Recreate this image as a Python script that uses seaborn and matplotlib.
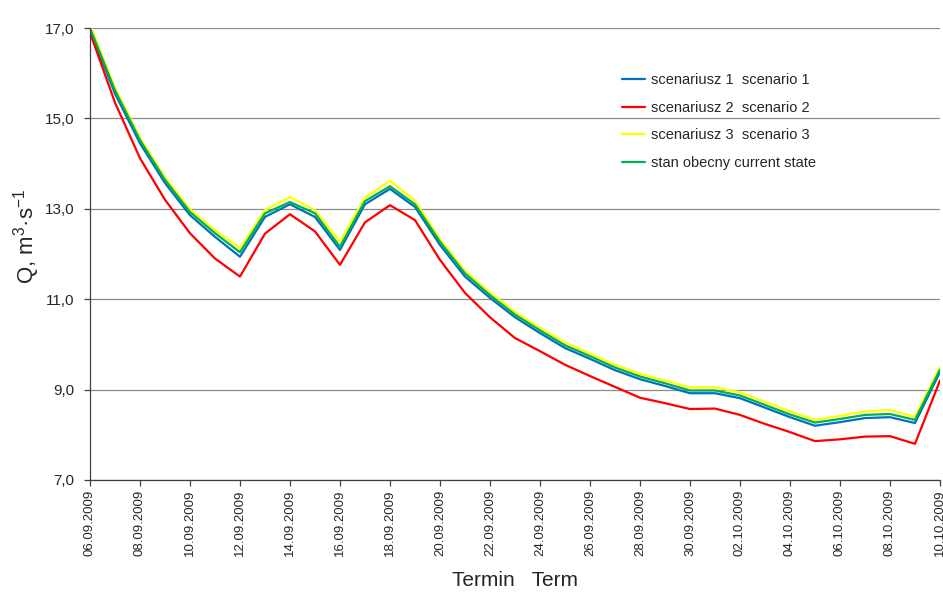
import pandas as pd
import seaborn as sns
import matplotlib.pyplot as plt
import matplotlib.dates as mdates
from matplotlib.ticker import FuncFormatter

# daily discharge, 06.09.2009 - 10.10.2009
days = pd.date_range("2009-09-06", "2009-10-10", freq="D")

scenario_1 = [16.95, 15.55, 14.45, 13.57, 12.86, 12.38, 11.94, 12.82, 13.10, 12.82,
              12.09, 13.10, 13.44, 13.04, 12.20, 11.50, 11.03, 10.60, 10.25, 9.92,
              9.68, 9.43, 9.23, 9.08, 8.92, 8.92, 8.81, 8.60, 8.39, 8.20,
              8.28, 8.37, 8.39, 8.26, 9.39]
scenario_2 = [16.90, 15.35, 14.12, 13.20, 12.46, 11.90, 11.50, 12.45, 12.88, 12.50,
              11.76, 12.70, 13.08, 12.75, 11.87, 11.14, 10.60, 10.14, 9.85, 9.55,
              9.30, 9.06, 8.82, 8.70, 8.57, 8.58, 8.44, 8.24, 8.06, 7.86,
              7.90, 7.96, 7.97, 7.80, 9.20]
scenario_3 = [17.07, 15.68, 14.57, 13.70, 12.99, 12.53, 12.13, 12.97, 13.26, 12.97,
              12.27, 13.25, 13.62, 13.18, 12.33, 11.63, 11.15, 10.72, 10.37, 10.04,
              9.80, 9.55, 9.35, 9.20, 9.05, 9.05, 8.94, 8.73, 8.52, 8.33,
              8.42, 8.52, 8.55, 8.40, 9.50]
current_state = [17.00, 15.62, 14.52, 13.64, 12.93, 12.46, 12.04, 12.90, 13.15, 12.90,
                 12.16, 13.17, 13.50, 13.10, 12.27, 11.57, 11.09, 10.66, 10.31, 9.98,
                 9.74, 9.49, 9.29, 9.14, 8.98, 8.98, 8.87, 8.66, 8.45, 8.27,
                 8.35, 8.44, 8.46, 8.33, 9.44]

series_names = ["scenariusz 1  scenario 1", "scenariusz 2  scenario 2",
                "scenariusz 3  scenario 3", "stan obecny current state"]
series_colors = ["#0070C0", "#FF0000", "#FFFF00", "#00B050"]

df = pd.concat([
    pd.DataFrame({"date": days, "Q": vals, "series": name})
    for name, vals in zip(series_names,
                          [scenario_1, scenario_2, scenario_3, current_state])
])

sns.set_style("white")
plt.rcParams["font.family"] = ["Liberation Sans", "DejaVu Sans"]
plt.rcParams["mathtext.default"] = "regular"

fig = plt.figure(figsize=(9.43, 5.92), dpi=100)
ax = fig.add_axes([0.0954, 0.1892, 0.9014, 0.7635])

sns.lineplot(data=df, x="date", y="Q", hue="series", hue_order=series_names,
             palette=series_colors, linewidth=1.6, ax=ax, legend=False)

ax.set_xlim(days[0], days[-1])
ax.set_ylim(7, 17)
ax.set_yticks([7, 9, 11, 13, 15, 17])
ax.yaxis.set_major_formatter(FuncFormatter(lambda v, p: f"{v:.1f}".replace(".", ",")))
ax.set_xticks(days[::2])
ax.xaxis.set_major_formatter(mdates.DateFormatter("%d.%m.%Y"))
plt.setp(ax.get_xticklabels(), rotation=90, ha="center", fontsize=9.5)
plt.setp(ax.get_yticklabels(), fontsize=11)

ax.grid(axis="y", color="#8c8c8c", linewidth=0.9)
ax.set_axisbelow(True)
for side in ["top", "right"]:
    ax.spines[side].set_visible(False)
for side in ["left", "bottom"]:
    ax.spines[side].set_color("#404040")
    ax.spines[side].set_linewidth(0.9)
ax.tick_params(axis="both", direction="out", length=4, width=0.9,
               color="#404040", left=True, bottom=True)
ax.tick_params(axis="y", pad=7)
ax.tick_params(axis="x", pad=3)

ax.set_xlabel("Termin   Term", fontsize=15, labelpad=11)
ax.set_ylabel(r"Q, m$^{3}$·s$^{-1}$", fontsize=16)
ax.yaxis.set_label_coords(-0.056, 0.54)

handles = [plt.Line2D([], [], color=c, linewidth=1.6) for c in series_colors]
ax.legend(handles, series_names, loc="upper left", bbox_to_anchor=(0.61, 0.93),
          frameon=False, fontsize=10.5, handlelength=1.6, handletextpad=0.4,
          labelspacing=0.95)

fig.savefig("out.png", dpi=100)
